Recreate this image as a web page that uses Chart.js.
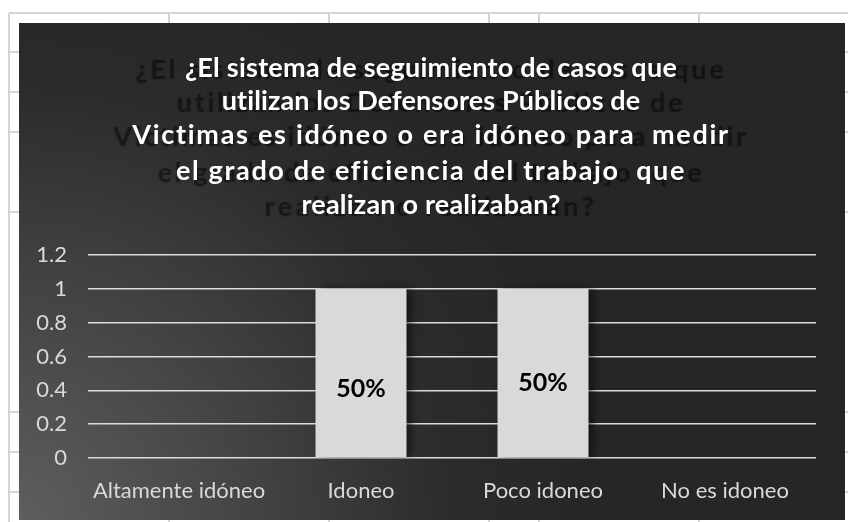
<!DOCTYPE html>
<html>
<head>
<meta charset="utf-8">
<script src="https://cdn.jsdelivr.net/npm/chart.js@4/dist/chart.umd.min.js"></script>
<style>
  html, body { margin: 0; padding: 0; background: #ffffff; }
  #wrap { width: 848px; height: 522px; position: relative; }
</style>
</head>
<body>
<div id="wrap"><canvas id="c" width="848" height="522"></canvas></div>
<script>
// ---- Data ----
const categories = ['Altamente idóneo', 'Idoneo', 'Poco idoneo', 'No es idoneo'];
const values = [0, 1, 1, 0];
const percentLabels = ['', '50%', '50%', ''];
const titleLines = [
  '¿El sistema de seguimiento de casos que',
  'utilizan los Defensores Públicos de',
  'Victimas es idóneo o era idóneo para  medir',
  'el grado de eficiencia del trabajo  que',
  'realizan o realizaban?'
];
const yMin = 0, yMax = 1.2, yStep = 0.2;

// ---- Styling plugin: spreadsheet backdrop, dark chart box, title, labels ----
const decor = {
  id: 'decor',
  beforeDraw(chart) {
    const ctx = chart.ctx;
    ctx.save();
    ctx.fillStyle = '#ffffff';
    ctx.fillRect(0, 0, 848, 522);
    ctx.strokeStyle = '#d4d4d4';
    ctx.lineWidth = 2;
    ctx.beginPath();
    ctx.moveTo(9, 13); ctx.lineTo(848, 13);
    ctx.moveTo(9, 13); ctx.lineTo(9, 522);
    [169, 329, 489, 539, 699].forEach(x => { ctx.moveTo(x, 13); ctx.lineTo(x, 522); });
    [52, 92, 132, 212, 412, 452, 492].forEach(y => { ctx.moveTo(9, y); ctx.lineTo(848, y); });
    ctx.stroke();
    // dark chart box with radial gradient
    const g = ctx.createRadialGradient(19, 520, 0, 19, 520, 580);
    g.addColorStop(0, '#5e5e5e');
    g.addColorStop(0.45, '#404040');
    g.addColorStop(0.75, '#2b2b2b');
    g.addColorStop(1, '#262626');
    ctx.fillStyle = g;
    ctx.fillRect(19, 23, 826, 497);
    ctx.restore();

    // title: ghost (shadow) then real text
    const cx = 431;
    const baselines = [77, 110, 144, 180, 214];
    const targets = [492, 419, 598, 510, 259];
    const ghostTargets = [591, 509, 636, 546, 333];
    ctx.save();
    ctx.font = 'bold 27px Lato';
    ctx.textAlign = 'left';
    ctx.textBaseline = 'alphabetic';
    const fit = (line, target) => {
      ctx.letterSpacing = '0px';
      const w0 = ctx.measureText(line).width;
      const ls = (target - w0) / line.length;
      ctx.letterSpacing = ls.toFixed(2) + 'px';
      return ctx.measureText(line).width;
    };
    titleLines.forEach((line, i) => {
      const w = fit(line, ghostTargets[i]);
      ctx.save();
      ctx.fillStyle = 'rgba(0,0,0,0.4)';
      ctx.shadowColor = 'rgba(0,0,0,0.5)';
      ctx.shadowBlur = 3;
      ctx.fillText(line, cx - w / 2, baselines[i] + 2);
      ctx.restore();
    });
    titleLines.forEach((line, i) => {
      const w = fit(line, targets[i]);
      ctx.fillStyle = '#ffffff';
      ctx.fillText(line, cx - w / 2, baselines[i]);
    });
    ctx.restore();
  },
  beforeDatasetsDraw(chart) {
    const ctx = chart.ctx;
    ctx.save();
    ctx.shadowColor = 'rgba(0,0,0,0.55)';
    ctx.shadowBlur = 8;
    ctx.shadowOffsetX = 4;
  },
  afterDatasetsDraw(chart) {
    const ctx = chart.ctx;
    ctx.restore();
    const meta = chart.getDatasetMeta(0);
    const offsets = [0, 16, 10, 0];
    ctx.save();
    ctx.font = 'bold 25px Lato';
    ctx.fillStyle = '#000000';
    ctx.textAlign = 'center';
    ctx.textBaseline = 'middle';
    meta.data.forEach((bar, i) => {
      if (!percentLabels[i]) return;
      const mid = (bar.y + bar.base) / 2;
      ctx.fillText(percentLabels[i], bar.x, mid + offsets[i]);
    });
    ctx.restore();
  }
};

new Chart(document.getElementById('c'), {
  type: 'bar',
  data: {
    labels: categories,
    datasets: [{
      data: values,
      backgroundColor: '#d9d9d9',
      borderWidth: 0,
      barPercentage: 0.5,
      categoryPercentage: 1.0
    }]
  },
  options: {
    responsive: false,
    animation: false,
    devicePixelRatio: 1,
    layout: { padding: { left: 0, top: 255, right: 32, bottom: 0 } },
    plugins: { legend: { display: false }, tooltip: { enabled: false }, title: { display: false } },
    scales: {
      x: {
        grid: { display: false, drawTicks: false },
        border: { display: false },
        ticks: { color: '#d9d9d9', font: { family: 'Lato', size: 22 }, padding: 20, maxRotation: 0, autoSkip: false },
        afterFit(scale) { scale.height = 64; }
      },
      y: {
        min: yMin, max: yMax,
        grid: { color: '#dcdcdc', lineWidth: 1.6, drawTicks: false },
        border: { display: false },
        ticks: {
          stepSize: yStep,
          color: '#d9d9d9',
          font: { family: 'Lato', size: 22 },
          padding: 21,
          callback: v => String(Number(v.toFixed(1)))
        },
        afterFit(scale) { scale.width = 88; }
      }
    }
  },
  plugins: [decor]
});
</script>
</body>
</html>
